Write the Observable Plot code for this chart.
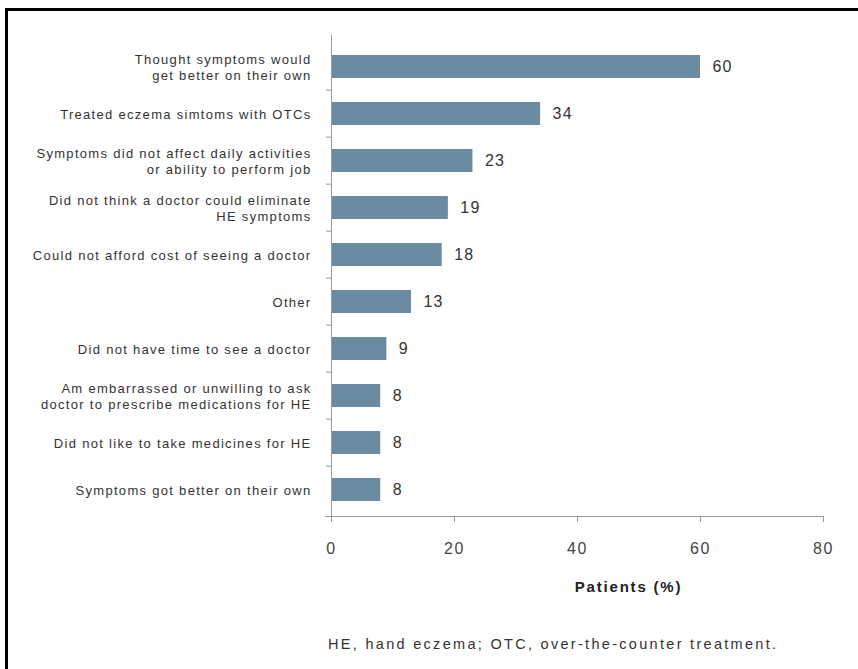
<!DOCTYPE html>
<html>
<head>
<meta charset="utf-8">
<script src="https://cdn.jsdelivr.net/npm/d3@7"></script>
<script src="https://cdn.jsdelivr.net/npm/@observablehq/plot@0.6"></script>
<style>
  html, body { margin: 0; padding: 0; background: #fff; overflow: hidden; }
  body { width: 858px; height: 669px; position: relative; font-family: "Liberation Sans", Arial, sans-serif; }
  #frame { position: absolute; left: 5px; top: 8px; width: 900px; height: 720px; border: 3px solid #000; box-sizing: border-box; }
  #chart { position: absolute; left: 0; top: 0; }
  #caption { position: absolute; left: 328px; top: 636px; font-size: 14.5px; letter-spacing: 2.3px; color: #333; white-space: nowrap; }
</style>
</head>
<body>
<div id="frame"></div>
<div id="chart"></div>
<div id="caption">HE, hand eczema; OTC, over-the-counter treatment.</div>
<script>
const categories = [
  "Thought symptoms would\nget better on their own",
  "Treated eczema simtoms with OTCs",
  "Symptoms did not affect daily activities\nor ability to perform job",
  "Did not think a doctor could eliminate\nHE symptoms",
  "Could not afford cost of seeing a doctor",
  "Other",
  "Did not have time to see a doctor",
  "Am embarrassed or unwilling to ask\ndoctor to prescribe medications for HE",
  "Did not like to take medicines for HE",
  "Symptoms got better on their own"
];
const values = [60, 34, 23, 19, 18, 13, 9, 8, 8, 8];
const xTicks = [0, 20, 40, 60, 80];
const xLabel = "Patients (%)";

const data = categories.map((c, i) => ({category: c, value: values[i]}));

const W = 858, H = 600, mt = 39, mb = 84, ml = 331, mr = 35;
const step = (H - mt - mb) / categories.length;
const barColor = "#6a8ba1";

const chart = Plot.plot({
  width: W,
  height: H,
  marginTop: mt,
  marginBottom: mb,
  marginLeft: ml,
  marginRight: mr,
  style: {fontFamily: '"Liberation Sans", Arial, sans-serif', background: "transparent"},
  x: {domain: [0, 80]},
  y: {domain: categories, padding: 0},
  marks: [
    Plot.barX(data, {x: "value", y: "category", fill: barColor, insetTop: 12, insetBottom: 12}),
    Plot.text(data, {x: "value", y: "category", text: d => String(d.value), textAnchor: "start", dx: 12, fontSize: 16, fill: "#333"}),
    Plot.text(data, {x: 0, y: "category", text: "category", textAnchor: "end", dx: -20, fontSize: 13, lineHeight: 1.22, fill: "#333"}),
    Plot.ruleX([0], {stroke: "#999", insetTop: -4, insetBottom: -6}),
    Plot.frame({anchor: "bottom", stroke: "#999", insetLeft: -6}),
    Plot.axisY(categories.slice(1), {tickSize: 5, tickFormat: () => "", dy: -step / 2, stroke: "#999", label: null}),
    Plot.axisX({ticks: xTicks, tickSize: 6, tickPadding: 20, fontSize: 16, color: "#444", stroke: "#999", label: null}),
    Plot.text([xLabel], {frameAnchor: "bottom", dy: 75, dx: 51, fontSize: 15, fontWeight: "bold", fill: "#222"})
  ]
});
const svg = d3.select(chart);
const textGroups = svg.selectAll('g[aria-label="text"]').nodes();
d3.select(textGroups[0]).style("letter-spacing", "1.2px");
d3.select(textGroups[1]).style("letter-spacing", "1.3px");
d3.select(textGroups[2]).style("letter-spacing", "1.8px");
svg.selectAll('g[aria-label="x-axis tick label"]').style("letter-spacing", "1.5px");
document.getElementById("chart").appendChild(chart);
</script>
</body>
</html>
